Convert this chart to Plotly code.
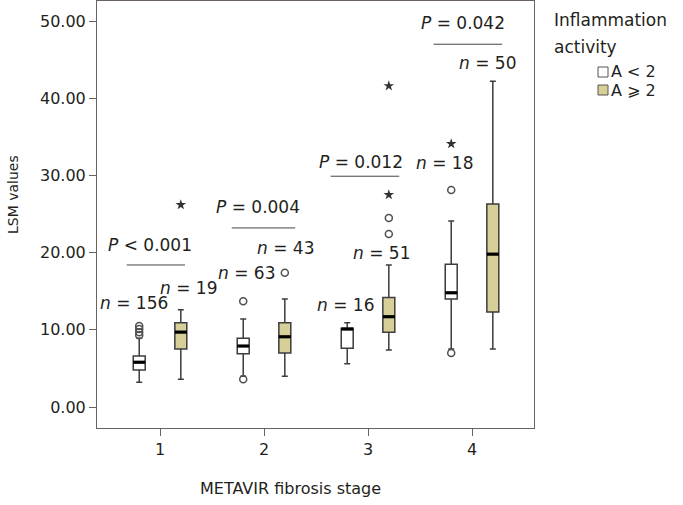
import plotly.graph_objects as go

# ---------------- data ----------------
stages = [1, 2, 3, 4]
stage_labels = ["1", "2", "3", "4"]

# A < 2 group (white boxes)
low_lowerfence = [3.2, 4.0, 5.6, 7.5]
low_q1 = [4.8, 6.9, 7.6, 14.0]
low_median = [5.8, 7.9, 10.1, 14.8]
low_q3 = [6.6, 8.9, 10.2, 18.5]
low_upperfence = [8.9, 11.4, 10.9, 24.1]
low_out_circle_stage = [1, 1, 1, 1, 2, 2, 4, 4]
low_out_circle_val = [9.3, 9.7, 10.1, 10.5, 13.7, 3.6, 28.1, 7.0]
low_out_star_stage = [4]
low_out_star_val = [34.1]

# A >= 2 group (khaki boxes)
high_lowerfence = [3.6, 4.0, 7.4, 7.5]
high_q1 = [7.5, 7.0, 9.7, 12.3]
high_median = [9.7, 9.1, 11.7, 19.8]
high_q3 = [10.9, 10.9, 14.2, 26.3]
high_upperfence = [12.6, 14.0, 18.4, 42.2]
high_out_circle_stage = [2, 3, 3]
high_out_circle_val = [17.4, 22.4, 24.5]
high_out_star_stage = [1, 3, 3]
high_out_star_val = [26.2, 27.5, 41.6]

# sample sizes
n_low = [156, 63, 16, 18]
n_high = [19, 43, 51, 50]
p_labels = ["<i>P</i> &lt; 0.001", "<i>P</i> = 0.004", "<i>P</i> = 0.012", "<i>P</i> = 0.042"]

legend_title = ["Inflammation", "activity"]
legend_labels = ["A &lt; 2", "A ⩾ 2"]

y_ticks = [0, 10, 20, 30, 40, 50]

# ---------------- styling / layout constants ----------------
FONT = "DejaVu Sans"
TXT = "#231f20"
KHAKI = "#d6cf97"
BOXLINE = "#3c3c3c"
FRAME = "#6a625e"
OFF = 0.2
BW = 0.115

# label placement (x in stage units, y in LSM units)
n_low_pos = [(0.75, 13.5), (1.83, 17.4), (2.78, 13.2), (3.74, 31.6)]
n_high_pos = [(1.27, 15.4), (2.21, 20.6), (3.13, 19.9), (4.15, 44.6)]
p_pos = [(0.90, 21.0), (1.94, 25.9), (2.93, 31.7), (3.91, 49.7)]
bracket = [(0.68, 1.24, 18.4), (1.69, 2.30, 23.2), (2.64, 3.30, 29.9), (3.63, 4.29, 47.0)]

fig = go.Figure()


def add_group(offset, lf, q1, med, q3, uf, fill, name, oc_s, oc_v, os_s, os_v):
    xs = [s + offset for s in stages]
    fig.add_trace(go.Box(
        x=xs, lowerfence=lf, q1=q1, median=med, q3=q3, upperfence=uf,
        width=BW, whiskerwidth=0.5, fillcolor=fill,
        line=dict(color=BOXLINE, width=1.5), name=name, showlegend=False,
        hoverinfo="skip",
    ))
    # thick median lines
    mx, my = [], []
    for x, m in zip(xs, med):
        mx += [x - BW / 2, x + BW / 2, None]
        my += [m, m, None]
    fig.add_trace(go.Scatter(x=mx, y=my, mode="lines",
                             line=dict(color="black", width=3.2),
                             showlegend=False, hoverinfo="skip"))
    fig.add_trace(go.Scatter(
        x=[s + offset for s in oc_s], y=oc_v, mode="markers",
        marker=dict(symbol="circle-open", size=7, color="#505050", line=dict(width=1.5)),
        showlegend=False, hoverinfo="skip"))
    fig.add_trace(go.Scatter(
        x=[s + offset for s in os_s], y=os_v, mode="markers",
        marker=dict(symbol="star", size=8, color="#333333"),
        showlegend=False, hoverinfo="skip"))


add_group(-OFF, low_lowerfence, low_q1, low_median, low_q3, low_upperfence,
          "white", "A < 2", low_out_circle_stage, low_out_circle_val,
          low_out_star_stage, low_out_star_val)
add_group(OFF, high_lowerfence, high_q1, high_median, high_q3, high_upperfence,
          KHAKI, "A ≥ 2", high_out_circle_stage, high_out_circle_val,
          high_out_star_stage, high_out_star_val)

annotations = []
for n, (x, y) in zip(n_low, n_low_pos):
    annotations.append(dict(x=x, y=y, text=f"<i>n</i> = {n}", showarrow=False,
                            xref="x", yref="y", font=dict(size=17, color=TXT, family=FONT)))
for n, (x, y) in zip(n_high, n_high_pos):
    annotations.append(dict(x=x, y=y, text=f"<i>n</i> = {n}", showarrow=False,
                            xref="x", yref="y", font=dict(size=17, color=TXT, family=FONT)))
for t, (x, y) in zip(p_labels, p_pos):
    annotations.append(dict(x=x, y=y, text=t, showarrow=False,
                            xref="x", yref="y", font=dict(size=17, color=TXT, family=FONT)))

shapes = []
for x0, x1, y in bracket:
    shapes.append(dict(type="line", xref="x", yref="y", x0=x0, x1=x1, y0=y, y1=y,
                       line=dict(color="#444", width=1)))

# pixel -> paper helpers for the legend / axis titles
L, R, T, B = 97, 534, 1, 428


def px(xp):
    return (xp - L) / (R - L)


def py(yp):
    return (B - yp) / (B - T)


# manual legend
annotations.append(dict(x=px(552), y=py(20), xref="paper", yref="paper", text=legend_title[0],
                        showarrow=False, xanchor="left", yanchor="middle",
                        font=dict(size=17, color=TXT, family=FONT)))
annotations.append(dict(x=px(552), y=py(47), xref="paper", yref="paper", text=legend_title[1],
                        showarrow=False, xanchor="left", yanchor="middle",
                        font=dict(size=17, color=TXT, family=FONT)))
legend_fills = ["white", KHAKI]
legend_y = [72, 90]
for lab, fill, yc in zip(legend_labels, legend_fills, legend_y):
    shapes.append(dict(type="rect", xref="paper", yref="paper",
                       x0=px(598), x1=px(608), y0=py(yc + 5), y1=py(yc - 5),
                       fillcolor=fill, line=dict(color="#555", width=1)))
    annotations.append(dict(x=px(609), y=py(yc), xref="paper", yref="paper", text=lab,
                            showarrow=False, xanchor="left", yanchor="middle",
                            font=dict(size=16, color=TXT, family=FONT)))

# axis titles
annotations.append(dict(x=px(13), y=py(195), xref="paper", yref="paper", text="LSM values",
                        textangle=-90, showarrow=False, xanchor="center", yanchor="middle",
                        font=dict(size=14, color=TXT, family=FONT)))
annotations.append(dict(x=px(290), y=py(488), xref="paper", yref="paper",
                        text="METAVIR fibrosis stage", showarrow=False,
                        xanchor="center", yanchor="middle",
                        font=dict(size=16, color=TXT, family=FONT)))

fig.update_layout(
    width=683, height=505,
    margin=dict(l=L, r=683 - R, t=T, b=505 - B, autoexpand=False),
    paper_bgcolor="white", plot_bgcolor="white",
    font=dict(family=FONT, color=TXT, size=16),
    showlegend=False,
    annotations=annotations, shapes=shapes,
    xaxis=dict(range=[0.394, 4.596], tickvals=stages, ticktext=stage_labels,
               ticks="outside", ticklen=7, tickcolor=FRAME, showline=True, mirror=True,
               linecolor=FRAME, linewidth=1, showgrid=False, zeroline=False,
               automargin=False,
               tickfont=dict(size=16, color=TXT, family=FONT)),
    yaxis=dict(range=[-2.72, 52.6], tickvals=y_ticks, tickformat=".2f",
               ticks="outside", ticklen=7, tickcolor=FRAME, showline=True, mirror=True,
               linecolor=FRAME, linewidth=1, showgrid=False, zeroline=False,
               automargin=False,
               tickfont=dict(size=16, color=TXT, family=FONT)),
)

fig.write_html("out.html",
               config={"displayModeBar": False},
               post_script="document.body.style.margin='0';document.body.style.overflow='hidden';")
